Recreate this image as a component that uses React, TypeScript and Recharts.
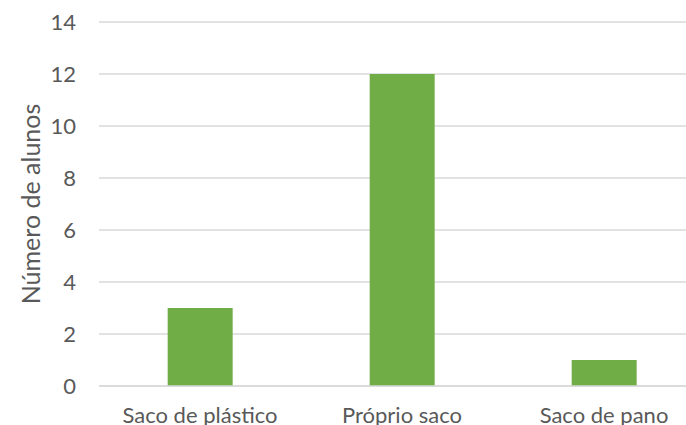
import { Bar, BarChart, CartesianGrid, XAxis, YAxis } from 'recharts'

const categories = ['Saco de plástico', 'Próprio saco', 'Saco de pano']
const alunos = [3, 12, 1]
const yTicks = [0, 2, 4, 6, 8, 10, 12, 14]

const data = categories.map((name, i) => ({ name, alunos: alunos[i] }))

const TEXT = '#595959'
const FONT = 'Lato, "Open Sans", sans-serif'

export default function App() {
  return (
    <div
      style={{
        position: 'absolute',
        left: 0,
        top: 0,
        width: 686,
        height: 425,
        overflow: 'hidden',
        background: '#fff',
        fontFamily: FONT,
      }}
    >
      <BarChart
        width={710}
        height={425}
        data={data}
        margin={{ top: 22, right: 5, bottom: 0, left: 0 }}
        barCategoryGap="34%"
      >
        <CartesianGrid vertical={false} stroke="#d9d9d9" strokeWidth={1.3} />
        <XAxis
          dataKey="name"
          axisLine={{ stroke: '#d9d9d9', strokeWidth: 1.3 }}
          tickLine={false}
          height={39}
          tickMargin={15}
          interval={0}
          tick={{ fill: TEXT, fontSize: 22, fontFamily: FONT }}
        />
        <YAxis
          width={99}
          domain={[0, 14]}
          ticks={yTicks}
          axisLine={false}
          tickLine={false}
          tickMargin={17}
          tick={{ fill: TEXT, fontSize: 22, fontFamily: FONT }}
          label={{
            content: ({ viewBox }: any) => {
              const cx = 30
              const cy = viewBox.y + viewBox.height / 2
              return (
                <text
                  x={cx}
                  y={cy}
                  transform={`rotate(-90 ${cx} ${cy})`}
                  textAnchor="middle"
                  dominantBaseline="central"
                  fill={TEXT}
                  fontSize={25}
                  fontFamily={FONT}
                >
                  Número de alunos
                </text>
              )
            },
          }}
        />
        <Bar dataKey="alunos" fill="#70ad47" isAnimationActive={false} />
      </BarChart>
    </div>
  )
}
